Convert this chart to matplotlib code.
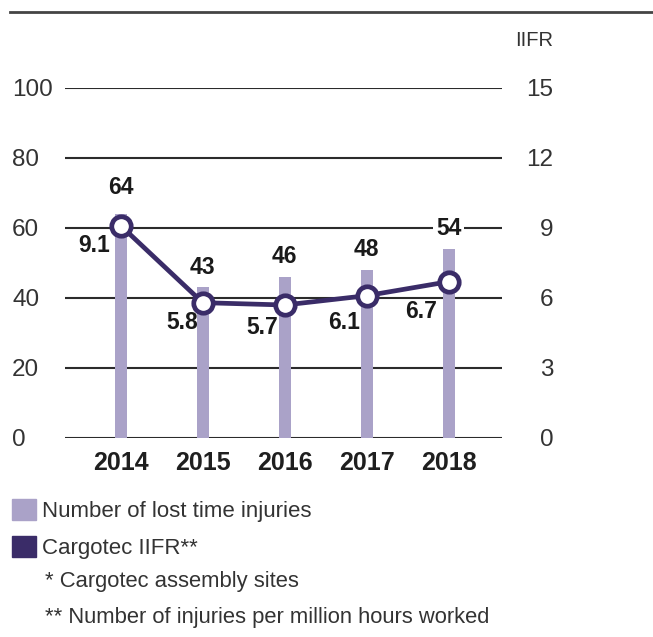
import numpy as np
import matplotlib
matplotlib.use("Agg")
import matplotlib.pyplot as plt
from matplotlib.lines import Line2D
from matplotlib.patches import Patch

years = ["2014", "2015", "2016", "2017", "2018"]
lost_time_injuries = [64, 43, 46, 48, 54]
iifr = [9.1, 5.8, 5.7, 6.1, 6.7]
left_ticks = [0, 20, 40, 60, 80, 100]
right_ticks = [0, 3, 6, 9, 12, 15]

bar_color = "#aaa2c8"
line_color = "#3a2c68"
text_color = "#333333"
font = ["Liberation Sans", "DejaVu Sans"]

fig = plt.figure(figsize=(6.53, 6.37), dpi=100)
ax = fig.add_axes([65 / 653, 1 - 438 / 637, 437 / 653, 350 / 637])
x = np.arange(len(years))

# gridlines
for t in left_ticks:
    ax.axhline(t, color="#2b2b2b", lw=1.5, zorder=1)

# bars : lost time injuries
ax.bar(x, lost_time_injuries, width=0.15, color=bar_color, zorder=2)
for xi, v in zip(x, lost_time_injuries):
    off = 19 if xi == 0 else 14.5
    ax.annotate(str(v), (xi, v), xytext=(0, off), textcoords="offset points",
                ha="center", va="center", fontsize=16.5, fontweight="bold",
                family=font, color="#1a1a1a", zorder=6,
                bbox=dict(boxstyle="square,pad=0.12", fc="white", ec="none"))

ax.set_xlim(-0.68, 4.65)
ax.set_ylim(0, 100)
ax.set_yticks(left_ticks)
ax.set_xticks(x)
ax.set_xticklabels(years, fontsize=18, fontweight="bold", family=font, color="#1f1f1f")
ax.tick_params(axis="x", length=0, pad=9.5)
ax.tick_params(axis="y", length=0, pad=38, labelsize=17.5, labelcolor=text_color)
for lbl in ax.get_yticklabels():
    lbl.set_ha("left")
    lbl.set_family(font)
for s in ax.spines.values():
    s.set_visible(False)

# IIFR line on secondary axis
ax2 = ax.twinx()
ax2.set_ylim(0, 15)
ax2.set_yticks(right_ticks)
ax2.tick_params(axis="y", length=0, pad=37, labelsize=17.5, labelcolor=text_color)
for lbl in ax2.get_yticklabels():
    lbl.set_ha("right")
    lbl.set_family(font)
for s in ax2.spines.values():
    s.set_visible(False)
ax2.plot(x, iifr, color=line_color, lw=3.4, marker="o", ms=14,
         mfc="white", mec=line_color, mew=3.4, zorder=5, clip_on=False)

# value labels sit below-left of each marker, pushed clear of the line
label_offsets = [(-19, -14.5), (-15, -14.5), (-16, -16), (-16, -19.5), (-20, -21.5)]
for xi, v, off in zip(x, iifr, label_offsets):
    ax2.annotate(f"{v:.1f}", (xi, v), xytext=off, textcoords="offset points",
                 ha="center", va="center", fontsize=16.5, fontweight="bold",
                 family=font, color="#1a1a1a")

fig.text(553 / 653, 1 - 40 / 637, "IIFR", ha="right", va="center",
         fontsize=14.5, family=font, color=text_color)

# rule across the top
fig.add_artist(Line2D([10 / 653, 1.0], [1 - 12 / 637] * 2, color="#444444", lw=2))

# legend and footnotes
handles = [Patch(color=bar_color), Patch(color=line_color)]
labels = ["Number of lost time injuries", "Cargotec IIFR**"]
leg = fig.legend(handles, labels, loc="upper left", bbox_to_anchor=(8 / 653, 1 - 495 / 637),
                 frameon=False, prop={"family": font, "size": 16},
                 handlelength=1.05, handleheight=1.05, handletextpad=0.3,
                 labelspacing=0.62, borderaxespad=0, borderpad=0.2)
for t in leg.get_texts():
    t.set_color(text_color)

fig.text(45 / 653, 1 - 582 / 637, "* Cargotec assembly sites", ha="left", va="center",
         fontsize=15.8, family=font, color=text_color)
fig.text(45 / 653, 1 - 617 / 637, "** Number of injuries per million hours worked",
         ha="left", va="center", fontsize=15.8, family=font, color=text_color)

fig.savefig("out.png", dpi=100)
